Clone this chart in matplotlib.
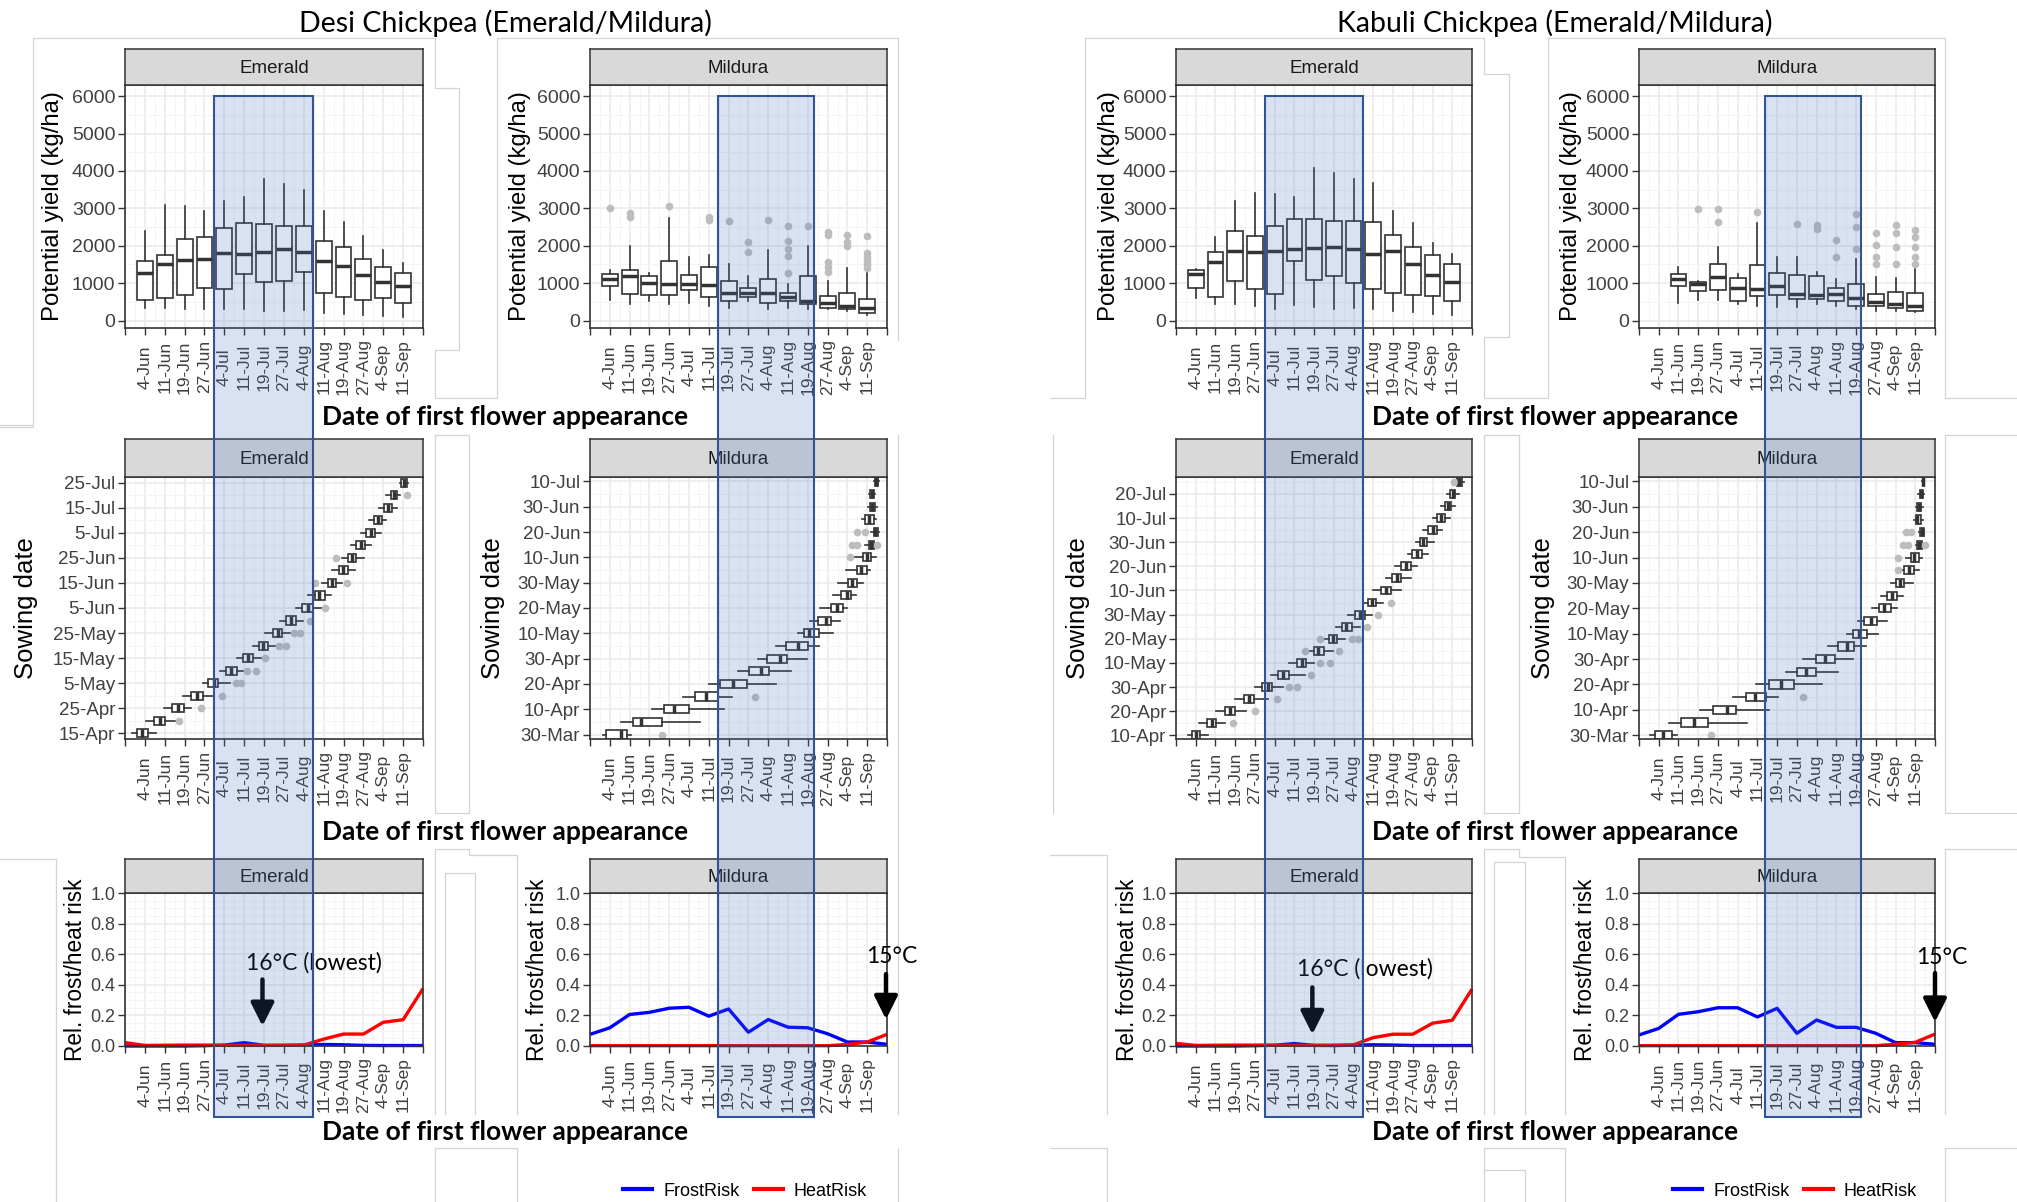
import matplotlib.pyplot as plt
from matplotlib.patches import Rectangle
from matplotlib.lines import Line2D
from matplotlib.ticker import MultipleLocator

plt.rcParams['font.family'] = ['Liberation Sans', 'DejaVu Sans']

# ---------------- data ----------------
flower_labels = ['4-Jun', '11-Jun', '19-Jun', '27-Jun', '4-Jul', '11-Jul', '19-Jul',
                 '27-Jul', '4-Aug', '11-Aug', '19-Aug', '27-Aug', '4-Sep', '11-Sep']

# potential yield boxes (kg/ha): whisker low, q1, median, q3, whisker high
desi_em_lo = [341, 341, 314, 296, 296, 314, 251, 251, 269, 207, 180, 144, 117, 90]
desi_em_q1 = [539, 593, 683, 880, 835, 1240, 1033, 1060, 1302, 728, 638, 548, 611, 476]
desi_em_med = [1266, 1509, 1626, 1644, 1796, 1778, 1841, 1913, 1841, 1599, 1446, 1222, 1042, 925]
desi_em_q3 = [1599, 1752, 2183, 2228, 2470, 2614, 2569, 2524, 2524, 2120, 1958, 1644, 1419, 1258]
desi_em_hi = [2407, 3099, 3054, 2928, 3198, 3305, 3773, 3665, 3503, 2928, 2632, 2273, 1895, 1527]

desi_mi_lo = [558, 450, 515, 450, 470, 380, 340, 515, 295, 340, 295, 295, 250, 160]
desi_mi_q1 = [914, 720, 670, 690, 810, 625, 515, 625, 470, 515, 430, 340, 295, 205]
desi_mi_med = [1120, 1180, 1000, 990, 965, 940, 740, 740, 740, 625, 515, 470, 385, 340]
desi_mi_q3 = [1236, 1360, 1180, 1590, 1230, 1430, 1050, 860, 1115, 740, 1200, 650, 740, 580]
desi_mi_hi = [1360, 2000, 1270, 2735, 1700, 1740, 1500, 1200, 1880, 965, 1990, 1050, 1410, 1280]
desi_mi_out = [[3020], [2880, 2780], [], [3055], [], [2760, 2700], [2650], [2100, 1830], [2700],
               [2520, 2140, 1900, 1720, 1280], [2540], [2360, 2290, 1560, 1440, 1300],
               [2290, 2100, 2000], [2270, 1800, 1700, 1600, 1500, 1400]]

kab_em_lo = [600, 430, 430, 400, 313, 420, 358, 313, 340, 313, 242, 224, 179, 152]
kab_em_q1 = [877, 627, 1047, 833, 716, 1594, 1092, 1200, 1012, 833, 734, 671, 645, 510]
kab_em_med = [1250, 1570, 1860, 1835, 1860, 1925, 1950, 1970, 1925, 1790, 1860, 1504, 1226, 1030]
kab_em_q3 = [1360, 1820, 2390, 2265, 2534, 2713, 2713, 2668, 2660, 2623, 2300, 1970, 1764, 1522]
kab_em_hi = [1390, 2240, 3205, 3420, 3385, 3312, 4090, 3957, 3796, 3670, 2936, 2614, 2077, 1790]

# Kabuli Mildura has no box at 4-Jun
kab_mi_lo = [465, 555, 537, 448, 400, 358, 358, 448, 400, 313, 268, 268, 224]
kab_mi_q1 = [914, 788, 823, 519, 653, 670, 582, 582, 519, 400, 376, 331, 268]
kab_mi_med = [1120, 967, 1164, 877, 850, 930, 716, 690, 698, 600, 492, 448, 400]
kab_mi_q3 = [1236, 1030, 1522, 1146, 1477, 1270, 1220, 1200, 877, 967, 698, 760, 743]
kab_mi_hi = [1430, 1047, 1970, 1236, 2614, 1700, 1700, 1298, 1120, 1650, 1164, 1146, 1390]
kab_mi_out = [[], [2970], [2970, 2640], [], [2910], [], [2570], [2550, 2460], [2150, 1700],
              [2860, 2500, 1925], [2330, 2010, 1700, 1520], [2560, 2330, 1970, 1520],
              [2420, 2240, 1970, 1700, 1520]]

# sowing date (every 5 days) vs flowering date (in flowering-label units, 1 = 4-Jun)
desi_em_sow_labels = ['15-Apr', '25-Apr', '5-May', '15-May', '25-May', '5-Jun',
                      '15-Jun', '25-Jun', '5-Jul', '15-Jul', '25-Jul']
desi_em_s_lo = [0.35, 1.07, 1.94, 2.90, 3.91, 4.78, 5.62, 6.43, 7.07, 7.80, 8.61, 9.19, 9.91,
                10.43, 10.93, 11.36, 11.88, 12.29, 12.81, 13.16, 13.83]
desi_em_s_q1 = [0.58, 1.45, 2.38, 3.33, 4.17, 5.07, 5.94, 6.72, 7.45, 8.12, 8.90, 9.54, 10.20,
                10.78, 11.22, 11.65, 12.14, 12.52, 13.04, 13.39, 13.91]
desi_em_s_med = [0.84, 1.74, 2.67, 3.62, 4.46, 5.33, 6.20, 6.96, 7.68, 8.38, 9.19, 9.77, 10.41,
                 10.99, 11.45, 11.88, 12.38, 12.75, 13.25, 13.54, 14.06]
desi_em_s_q3 = [1.16, 2.03, 2.96, 3.91, 4.70, 5.62, 6.43, 7.22, 7.88, 8.61, 9.48, 10.06, 10.64,
                11.22, 11.65, 12.09, 12.58, 12.96, 13.45, 13.68, 14.20]
desi_em_s_hi = [1.57, 2.52, 3.33, 4.41, 5.28, 6.09, 6.87, 7.54, 8.32, 8.96, 9.91, 10.35, 10.93,
                11.59, 12.03, 12.38, 12.87, 13.16, 13.68, 13.83, 14.26]
desi_em_s_out = [[], [2.72], [3.83], [4.90], [5.57, 5.86], [6.14, 6.58], [7.07], [7.74, 8.09],
                 [8.52, 8.81], [9.33], [10.06], [], [9.57, 11.16], [], [10.64], [], [], [], [],
                 [14.20], []]

mil_sow_labels = ['30-Mar', '10-Apr', '20-Apr', '30-Apr', '10-May', '20-May', '30-May',
                  '10-Jun', '20-Jun', '30-Jun', '10-Jul']
desi_mi_s_lo = [0.68, 1.59, 3.13, 4.72, 6.03, 7.45, 8.48, 9.40, 10.48, 11.13, 11.62, 12.27,
                12.53, 12.92, 13.30, 13.90, 14.20, 13.73, 14.05, 14.10, 14.36]
desi_mi_s_q1 = [0.82, 2.19, 3.73, 5.30, 6.55, 8.03, 8.94, 9.91, 10.82, 11.50, 12.19, 12.70,
                13.04, 13.50, 13.81, 14.07, 14.32, 13.90, 14.12, 14.15, 14.41]
desi_mi_s_med = [1.59, 2.58, 4.24, 5.86, 7.23, 8.63, 9.62, 10.48, 11.08, 11.93, 12.48, 12.96,
                 13.21, 13.69, 13.98, 14.19, 14.41, 14.07, 14.24, 14.22, 14.45]
desi_mi_s_q3 = [1.85, 3.64, 5.01, 6.46, 7.95, 9.06, 9.97, 10.99, 11.59, 12.19, 12.79, 13.16,
                13.50, 13.98, 14.19, 14.32, 14.53, 14.32, 14.41, 14.32, 14.53]
desi_mi_s_hi = [2.05, 5.57, 6.77, 7.18, 9.37, 10.15, 10.96, 11.59, 12.27, 12.65, 12.99, 13.42,
                13.81, 14.15, 14.46, 14.67, 14.60, 14.46, 14.50, 14.40, 14.58]
desi_mi_s_out = [[3.64], [], [], [8.31], [], [], [], [], [], [], [], [], [], [], [13.13],
                 [13.21, 13.47, 14.50], [13.50, 13.90], [], [], [], []]

kab_em_sow_labels = ['10-Apr', '20-Apr', '30-Apr', '10-May', '20-May', '30-May',
                     '10-Jun', '20-Jun', '30-Jun', '10-Jul', '20-Jul']
kab_em_s_lo = [0.60, 1.17, 2.05, 3.00, 4.01, 4.79, 5.74, 6.69, 7.32, 8.11, 8.74, 9.53, 10.00,
               10.63, 11.10, 11.74, 12.14, 12.52, 13.00, 13.41, 13.72, 14.16]
kab_em_s_q1 = [0.79, 1.55, 2.49, 3.44, 4.38, 5.17, 6.15, 7.00, 7.73, 8.42, 9.05, 9.75, 10.38,
               10.95, 11.42, 11.96, 12.37, 12.78, 13.22, 13.63, 13.88, 14.26]
kab_em_s_med = [1.01, 1.80, 2.74, 3.69, 4.64, 5.43, 6.37, 7.22, 7.95, 8.64, 9.31, 9.94, 10.63,
                11.20, 11.64, 12.21, 12.52, 13.00, 13.41, 13.79, 14.04, 14.35]
kab_em_s_q3 = [1.23, 2.05, 3.00, 3.94, 4.86, 5.74, 6.59, 7.48, 8.17, 8.90, 9.56, 10.16, 10.88,
               11.42, 11.89, 12.46, 12.74, 13.22, 13.63, 13.94, 14.16, 14.48]
kab_em_s_hi = [1.64, 2.49, 3.53, 4.64, 5.43, 6.53, 6.97, 7.95, 8.58, 9.31, 9.94, 10.47, 11.42,
               11.89, 12.21, 12.78, 13.09, 13.47, 13.88, 14.16, 14.35, 14.57]
kab_em_s_out = [[], [2.90], [4.01], [5.11], [5.74, 6.15], [6.85], [7.32, 7.79], [6.53, 8.26],
                [7.32, 8.90, 9.20], [9.68], [10.25], [10.88], [], [], [], [], [], [], [], [],
                [], [14.10]]

kab_mi_s_lo = [0.57, 1.52, 3.10, 4.78, 5.95, 7.44, 8.32, 9.59, 10.54, 11.11, 11.80, 12.28,
               12.75, 13.23, 13.54, 14.02, 14.18, 13.96, 14.02, 14.15, 14.34]
kab_mi_s_q1 = [0.79, 2.15, 3.73, 5.41, 6.58, 8.01, 8.96, 10.06, 10.85, 11.42, 12.18, 12.59,
               13.01, 13.45, 13.77, 14.11, 14.24, 14.05, 14.11, 14.24, 14.37]
kab_mi_s_med = [1.20, 2.78, 4.46, 5.89, 7.22, 8.48, 9.43, 10.54, 11.17, 11.74, 12.44, 12.82,
                13.23, 13.70, 13.96, 14.18, 14.34, 14.11, 14.18, 14.30, 14.40]
kab_mi_s_q3 = [1.68, 3.51, 4.91, 6.42, 7.85, 8.96, 9.91, 10.92, 11.55, 12.06, 12.75, 13.07,
               13.45, 13.96, 14.18, 14.34, 14.43, 14.27, 14.30, 14.37, 14.43]
kab_mi_s_hi = [1.93, 5.47, 6.58, 7.06, 9.27, 10.06, 10.85, 11.49, 12.12, 12.59, 13.07, 13.39,
               13.86, 14.18, 14.34, 14.40, 14.46, 14.37, 14.40, 14.43, 14.46]
kab_mi_s_out = [[3.64], [], [], [8.32], [], [], [], [], [], [], [], [], [], [13.13], [13.13],
                [13.39, 13.64, 14.49], [13.54, 13.77], [], [], [], []]

# relative frost / heat risk, points at flowering units 0..15
desi_em_frost = [0.0, 0.0, 0.0, 0.0, 0.002, 0.006, 0.022, 0.004, 0.004, 0.006, 0.01, 0.008,
                 0.004, 0.003, 0.003, 0.003]
desi_em_heat = [0.022, 0.004, 0.005, 0.006, 0.006, 0.004, 0.004, 0.004, 0.005, 0.006, 0.045,
                0.078, 0.078, 0.155, 0.172, 0.375]
desi_mi_frost = [0.076, 0.119, 0.206, 0.22, 0.247, 0.253, 0.195, 0.242, 0.09, 0.173, 0.123,
                 0.119, 0.08, 0.026, 0.026, 0.011]
desi_mi_heat = [0.002, 0.002, 0.002, 0.002, 0.002, 0.002, 0.002, 0.002, 0.002, 0.002, 0.002,
                0.002, 0.002, 0.01, 0.026, 0.076]
kab_em_frost = [0.0, 0.0, 0.0, 0.0, 0.002, 0.005, 0.016, 0.004, 0.003, 0.005, 0.008, 0.006,
                0.003, 0.003, 0.003, 0.003]
kab_em_heat = [0.017, 0.004, 0.005, 0.006, 0.006, 0.005, 0.004, 0.004, 0.005, 0.008, 0.055,
               0.077, 0.077, 0.149, 0.168, 0.372]
kab_mi_frost = [0.072, 0.115, 0.207, 0.224, 0.25, 0.25, 0.19, 0.246, 0.083, 0.17, 0.122,
                0.122, 0.083, 0.022, 0.022, 0.011]
kab_mi_heat = [0.002, 0.002, 0.002, 0.002, 0.002, 0.002, 0.002, 0.002, 0.002, 0.002, 0.002,
               0.002, 0.002, 0.011, 0.024, 0.078]

# ---------------- layout (pixels) ----------------
W, H = 2017, 1202
fig = plt.figure(figsize=(W / 100, H / 100), dpi=100)

EDGE = '#333333'
TXT = '#404040'


def fx(x):
    return x / W


def fy(y):
    return 1 - y / H


# faint outlines of the pasted picture frames
frame_lines = [
    [(0, 427), (33, 427), (33, 38), (435, 38), (435, 88), (459, 88), (459, 350), (435, 350),
     (435, 398), (497, 398), (497, 38), (898, 38), (898, 340)],
    [(0, 425), (32, 425)],
    [(435, 435), (435, 813), (469, 813), (469, 435), (435, 435)],
    [(898, 435), (898, 850)],
    [(0, 859), (56, 859), (56, 1202)],
    [(435, 1114), (435, 849), (469, 849), (469, 855), (517, 855), (517, 1114)],
    [(445, 1114), (445, 873), (475, 873), (475, 1114)],
    [(435, 1202), (435, 1148), (517, 1148), (517, 1202)],
    [(898, 850), (898, 1114)], [(898, 1148), (898, 1202)],
    [(1050, 398), (1085, 398), (1085, 38), (1484, 38), (1484, 74), (1509, 74), (1509, 337),
     (1484, 337), (1484, 398), (1548, 398), (1548, 38), (1945, 38), (1945, 398), (2017, 398)],
    [(1053, 435), (1053, 813)],
    [(1484, 813), (1484, 435), (1519, 435), (1519, 813), (1484, 813)],
    [(2017, 435), (1945, 435), (1945, 813), (2017, 813)],
    [(1050, 855), (1107, 855), (1107, 1114)],
    [(1484, 1114), (1484, 849), (1519, 849), (1519, 857), (1565, 857), (1565, 1114)],
    [(1494, 1114), (1494, 862), (1525, 862), (1525, 1114)],
    [(2017, 849), (1945, 849), (1945, 1114)],
    [(1050, 1148), (1107, 1148), (1107, 1202)],
    [(1484, 1202), (1484, 1148), (1565, 1148), (1565, 1202)],
    [(1484, 1170), (1525, 1170), (1525, 1202)],
    [(1945, 1202), (1945, 1148), (2017, 1148)],
]
for seg in frame_lines:
    fig.add_artist(Line2D([fx(p[0]) for p in seg], [fy(p[1]) for p in seg],
                          transform=fig.transFigure, color='#D4D4D4', lw=0.9, zorder=-1))


def panel(l, r, st, pt, pb, site):
    ax = fig.add_axes([fx(l), fy(pb), fx(r) - fx(l), fy(pt) - fy(pb)])
    sx = fig.add_axes([fx(l), fy(pt), fx(r) - fx(l), fy(st) - fy(pt)])
    sx.set_facecolor('#D9D9D9')
    sx.set_xticks([])
    sx.set_yticks([])
    for s in sx.spines.values():
        s.set_color(EDGE)
        s.set_linewidth(1.1)
    sx.text(0.5, 0.45, site, ha='center', va='center', fontsize=13.5, color='#1A1A1A',
            transform=sx.transAxes)
    for s in ax.spines.values():
        s.set_color(EDGE)
        s.set_linewidth(1.2)
    ax.set_axisbelow(True)
    ax.set_xlim(0, 15)
    ax.set_xticks(range(16))
    ax.set_xticklabels([''] + flower_labels + [''], rotation=90, fontsize=12.5, color=TXT)
    plt.setp(ax.get_xticklabels(), va='center')
    ax.xaxis.set_minor_locator(MultipleLocator(0.5))
    ax.tick_params(which='major', length=5, width=1, color=EDGE, labelcolor=TXT)
    ax.tick_params(axis='x', which='major', pad=23)
    ax.tick_params(axis='y', which='major', pad=2)
    ax.tick_params(which='minor', length=0)
    ax.grid(which='major', color='#EBEBEB', lw=1.2)
    ax.grid(which='minor', color='#F4F4F4', lw=0.7)
    return ax


box_kw = dict(showcaps=False, patch_artist=True, manage_ticks=False,
              boxprops=dict(facecolor='white', edgecolor=EDGE, lw=1.2),
              whiskerprops=dict(color=EDGE, lw=1.2),
              medianprops=dict(color=EDGE, lw=2.5),
              flierprops=dict(marker='o', markerfacecolor='#BDBDBD', markeredgecolor='none',
                              markersize=5.5))


def box_stats(lo, q1, med, q3, hi, out=None):
    if out is None:
        out = [[] for _ in lo]
    return [dict(whislo=a, q1=b, med=c, q3=d, whishi=e, fliers=f)
            for a, b, c, d, e, f in zip(lo, q1, med, q3, hi, out)]


halves = {
    'Desi': dict(cols=[(125, 423), (590, 887)], title='Desi Chickpea (Emerald/Mildura)', cx=505,
                 ylab_x=[(53, 520), (26, 493), (75, 537)], leg_x=745),
    'Kabuli': dict(cols=[(1176, 1472), (1639, 1935)], title='Kabuli Chickpea (Emerald/Mildura)',
                   cx=1555, ylab_x=[(1109, 1571), (1078, 1543), (1127, 1585)], leg_x=1795),
}
rows = {'yield': (49, 85, 328), 'sow': (439, 477, 739), 'risk': (859, 893, 1046)}

yield_data = {
    'Desi': [(box_stats(desi_em_lo, desi_em_q1, desi_em_med, desi_em_q3, desi_em_hi),
              list(range(1, 15))),
             (box_stats(desi_mi_lo, desi_mi_q1, desi_mi_med, desi_mi_q3, desi_mi_hi, desi_mi_out),
              list(range(1, 15)))],
    'Kabuli': [(box_stats(kab_em_lo, kab_em_q1, kab_em_med, kab_em_q3, kab_em_hi),
                list(range(1, 15))),
               (box_stats(kab_mi_lo, kab_mi_q1, kab_mi_med, kab_mi_q3, kab_mi_hi, kab_mi_out),
                list(range(2, 15)))],
}
sow_data = {
    'Desi': [(box_stats(desi_em_s_lo, desi_em_s_q1, desi_em_s_med, desi_em_s_q3, desi_em_s_hi,
                        desi_em_s_out), desi_em_sow_labels, (-0.45, 20.45)),
             (box_stats(desi_mi_s_lo, desi_mi_s_q1, desi_mi_s_med, desi_mi_s_q3, desi_mi_s_hi,
                        desi_mi_s_out), mil_sow_labels, (-0.35, 20.35))],
    'Kabuli': [(box_stats(kab_em_s_lo, kab_em_s_q1, kab_em_s_med, kab_em_s_q3, kab_em_s_hi,
                          kab_em_s_out), kab_em_sow_labels, (-0.3, 21.4)),
               (box_stats(kab_mi_s_lo, kab_mi_s_q1, kab_mi_s_med, kab_mi_s_q3, kab_mi_s_hi,
                          kab_mi_s_out), mil_sow_labels, (-0.3, 20.35))],
}
risk_data = {
    'Desi': [(desi_em_frost, desi_em_heat), (desi_mi_frost, desi_mi_heat)],
    'Kabuli': [(kab_em_frost, kab_em_heat), (kab_mi_frost, kab_mi_heat)],
}
# annotation: text, text xy, arrow x, arrow top, arrow tip
notes = {
    'Desi': [('16°C (lowest)', (9.5, 0.545), 6.92, 0.435, 0.13),
             ('15°C', (15.25, 0.587), 14.95, 0.47, 0.174)],
    'Kabuli': [('16°C (lowest)', (9.56, 0.503), 6.91, 0.383, 0.076),
               ('15°C', (15.35, 0.58), 15.0, 0.477, 0.157)],
}
windows = {'Desi': [(4.5, 9.45), (6.45, 11.3)], 'Kabuli': [(4.5, 9.5), (6.4, 11.25)]}
sites = ['Emerald', 'Mildura']
xlab_y = [417, 832, 1132]

for crop, h in halves.items():
    top_axes = []
    for j, (l, r) in enumerate(h['cols']):
        # yield
        ax = panel(l, r, *rows['yield'], sites[j])
        st, pos = yield_data[crop][j]
        ax.bxp(st, positions=pos, widths=0.8, **box_kw)
        ax.set_ylim(-200, 6300)
        ax.set_yticks(range(0, 6001, 1000))
        ax.yaxis.set_minor_locator(MultipleLocator(500))
        ax.tick_params(axis='y', labelsize=14)
        top_axes.append(ax)
        fig.text(fx(h['ylab_x'][0][j]), fy(206), 'Potential yield (kg/ha)', rotation=90,
                 ha='center', va='center', fontsize=17.2)

        # sowing date
        ax = panel(l, r, *rows['sow'], sites[j])
        st, ylabels, ylim = sow_data[crop][j]
        ax.bxp(st, positions=list(range(len(st))), widths=0.65, orientation='horizontal',
               **box_kw)
        ax.set_ylim(*ylim)
        ax.set_yticks(range(0, 21, 2))
        ax.set_yticklabels(ylabels)
        ax.yaxis.set_minor_locator(MultipleLocator(1))
        ax.tick_params(axis='y', labelsize=13.5)
        ax.set_xlim(0, 15)
        fig.text(fx(h['ylab_x'][1][j]), fy(608), 'Sowing date', rotation=90,
                 ha='center', va='center', fontsize=18.5)

        # risk
        ax = panel(l, r, *rows['risk'], sites[j])
        frost, heat = risk_data[crop][j]
        xs = list(range(len(frost)))
        ax.plot(xs, frost, color='#0000FF', lw=2.4, solid_capstyle='butt', clip_on=False)
        ax.plot(xs, heat, color='#FF0000', lw=2.4, solid_capstyle='butt', clip_on=False)
        ax.set_ylim(0, 1.0)
        ax.set_yticks([0, 0.2, 0.4, 0.6, 0.8, 1.0])
        ax.set_yticklabels(['0.0', '0.2', '0.4', '0.6', '0.8', '1.0'])
        ax.yaxis.set_minor_locator(MultipleLocator(0.05))
        ax.tick_params(axis='y', labelsize=13)
        fig.text(fx(h['ylab_x'][2][j]), fy(970), 'Rel. frost/heat risk', rotation=90,
                 ha='center', va='center', fontsize=16.3)
        txt, txy, axx, atop, atip = notes[crop][j]
        ax.annotate('', xy=(axx, atip), xytext=(axx, atop), annotation_clip=False,
                    arrowprops=dict(arrowstyle='-|>,head_length=0.7,head_width=0.35',
                                    lw=3.2, color='black', shrinkA=0, shrinkB=0,
                                    mutation_scale=20))
        ax.text(txy[0], txy[1], txt, ha='center', va='center', fontsize=16.5,
                family='Lato', color='black', clip_on=False)

    # highlighted flowering window across the three rows
    for j, ax in enumerate(top_axes):
        x0, x1 = windows[crop][j]
        p0 = ax.transData.transform((x0, 6000))
        p1 = ax.transData.transform((x1, 6000))
        rect = Rectangle((p0[0] / W, fy(1117)), (p1[0] - p0[0]) / W, p0[1] / H - fy(1117),
                         transform=fig.transFigure, facecolor='#4472C4', alpha=0.2,
                         edgecolor='none', zorder=10)
        fig.add_artist(rect)
        frame = Rectangle((p0[0] / W, fy(1117)), (p1[0] - p0[0]) / W, p0[1] / H - fy(1117),
                          transform=fig.transFigure, facecolor='none', edgecolor='#2F5597',
                          lw=1.5, zorder=11)
        fig.add_artist(frame)

    fig.text(fx(h['cx']), fy(23), h['title'], ha='center', va='center', fontsize=20.5,
             family='Lato')
    for yy in xlab_y:
        fig.text(fx(h['cx']), fy(yy), 'Date of first flower appearance', ha='center',
                 va='center', fontsize=19, family='Lato', weight='bold')

    handles = [Line2D([], [], color='#0000FF', lw=3), Line2D([], [], color='#FF0000', lw=3)]
    fig.legend(handles, ['FrostRisk', 'HeatRisk'], loc='center',
               bbox_to_anchor=(fx(h['leg_x']), fy(1191)), ncol=2, frameon=False,
               fontsize=13, handlelength=1.6, handletextpad=0.6, columnspacing=0.8,
               borderpad=0)

fig.savefig('out.png', dpi=100, facecolor='white')
